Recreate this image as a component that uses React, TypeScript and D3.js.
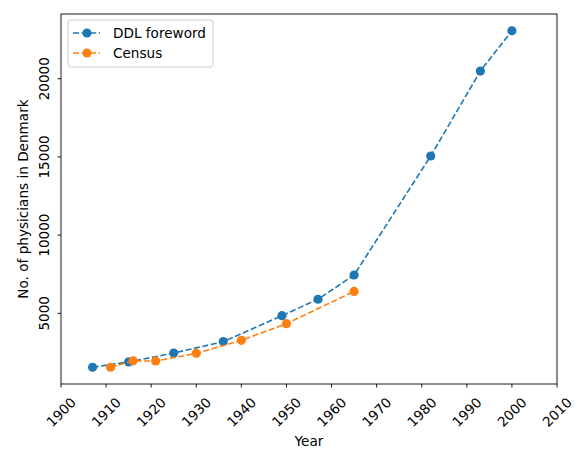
import * as d3 from "d3"

const ddlYears = [1907, 1915, 1925, 1936, 1949, 1957, 1965, 1982, 1993, 2000]
const ddlValues = [1550, 1890, 2460, 3190, 4850, 5900, 7450, 15060, 20490, 23070]

const censusYears = [1911, 1916, 1921, 1930, 1940, 1950, 1965]
const censusValues = [1550, 1960, 1950, 2440, 3270, 4340, 6400]

const xTicks = [1900, 1910, 1920, 1930, 1940, 1950, 1960, 1970, 1980, 1990, 2000, 2010]
const yTicks = [5000, 10000, 15000, 20000]

const seriesNames = ["DDL foreword", "Census"]
const colors = ["#1f77b4", "#ff7f0e"]

const W = 581
const H = 452
const M = { left: 61, right: 557, top: 14, bottom: 384 }
const FONT = "DejaVu Sans, sans-serif"
const FS = 13.6

export default function App() {
  const x = d3.scaleLinear().domain([1900, 2010]).range([M.left, M.right])
  const y = d3.scaleLinear().domain([480, 24140]).range([M.bottom, M.top])

  const line = d3
    .line<[number, number]>()
    .x((d) => x(d[0]))
    .y((d) => y(d[1]))

  const series = [
    ddlYears.map((yr, i) => [yr, ddlValues[i]] as [number, number]),
    censusYears.map((yr, i) => [yr, censusValues[i]] as [number, number]),
  ]

  return (
    <svg
      width={W}
      height={H}
      style={{ position: "absolute", left: 0, top: 0, background: "#fff" }}
      fontFamily={FONT}
    >
      {/* series */}
      {series.map((pts, s) => (
        <g key={s}>
          <path
            d={line(pts) || ""}
            fill="none"
            stroke={colors[s]}
            strokeWidth={1.6}
            strokeDasharray="6,2.6"
          />
          {pts.map((p, i) => (
            <circle key={i} cx={x(p[0])} cy={y(p[1])} r={4.6} fill={colors[s]} />
          ))}
        </g>
      ))}

      {/* frame */}
      <rect
        x={M.left}
        y={M.top}
        width={M.right - M.left}
        height={M.bottom - M.top}
        fill="none"
        stroke="#000"
        strokeWidth={0.9}
      />

      {/* x axis */}
      {xTicks.map((t) => (
        <g key={t}>
          <line x1={x(t)} x2={x(t)} y1={M.bottom} y2={M.bottom + 3.5} stroke="#000" strokeWidth={0.9} />
          <text
            transform={`translate(${x(t)},${M.bottom + 28}) rotate(-45)`}
            textAnchor="middle"
            dominantBaseline="central"
            fontSize={FS}
            fill="#000"
          >
            {t}
          </text>
        </g>
      ))}
      <text x={(M.left + M.right) / 2} y={446} textAnchor="middle" fontSize={FS} fill="#000">
        Year
      </text>

      {/* y axis */}
      {yTicks.map((t) => (
        <g key={t}>
          <line x1={M.left - 3.5} x2={M.left} y1={y(t)} y2={y(t)} stroke="#000" strokeWidth={0.9} />
          <text
            transform={`translate(${M.left - 12},${y(t)}) rotate(-90)`}
            textAnchor="middle"
            fontSize={FS}
            fill="#000"
          >
            {t}
          </text>
        </g>
      ))}
      <text
        transform={`translate(28,${(M.top + M.bottom) / 2}) rotate(-90)`}
        textAnchor="middle"
        fontSize={FS}
        fill="#000"
      >
        No. of physicians in Denmark
      </text>

      {/* legend */}
      <rect x={68} y={20} width={145} height={47} rx={3} fill="#fff" fillOpacity={0.8} stroke="#ccc" strokeWidth={1} />
      {seriesNames.map((name, i) => (
        <g key={name} transform={`translate(0,${33 + i * 20})`}>
          <line x1={73} x2={100} y1={0} y2={0} stroke={colors[i]} strokeWidth={1.6} strokeDasharray="6,2.6" />
          <circle cx={87} cy={0} r={4.6} fill={colors[i]} />
          <text x={113} y={0} dominantBaseline="central" fontSize={FS} fill="#000">
            {name}
          </text>
        </g>
      ))}
    </svg>
  )
}
